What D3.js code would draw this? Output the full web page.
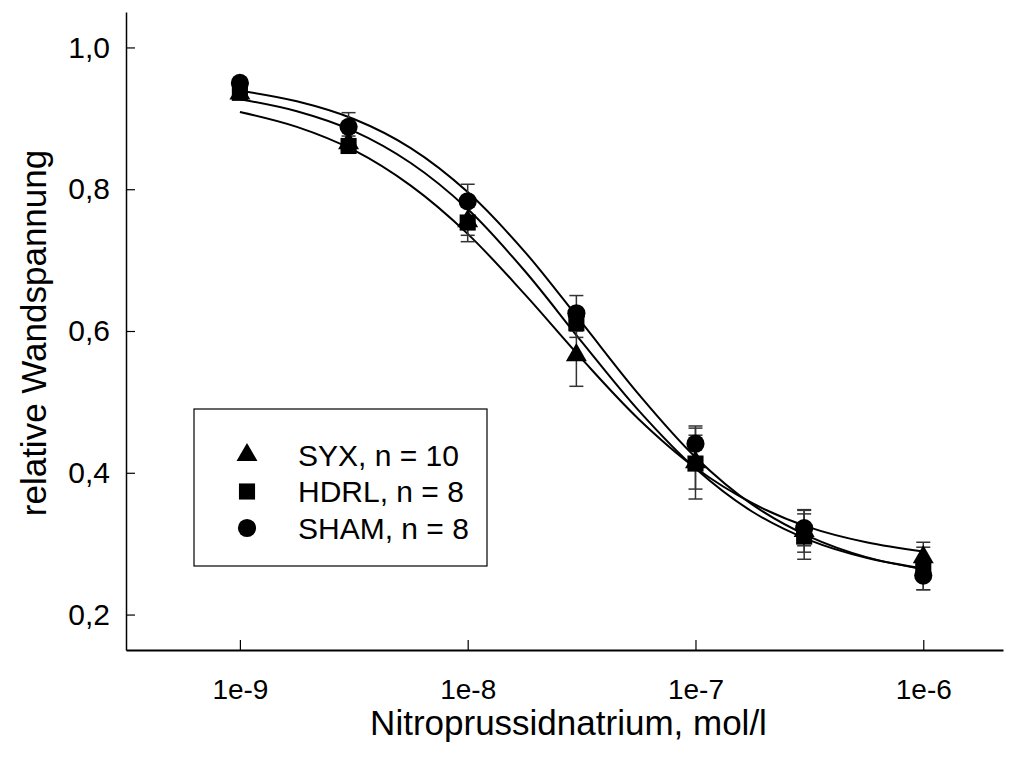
<!DOCTYPE html>
<html>
<head>
<meta charset="utf-8">
<script src="https://cdn.jsdelivr.net/npm/d3@7"></script>
<style>
  body { margin: 0; background: #fff; }
  text { font-family: "Liberation Sans", Arial, sans-serif; fill: #000; }
</style>
</head>
<body>
<svg id="chart" width="1030" height="762"></svg>
<script>
// concentrations (mol/l)
const concentrations = [1e-9, 3e-9, 1e-8, 3e-8, 1e-7, 3e-7, 1e-6];

// mean values per group
const syxValues  = [0.935, 0.865, 0.755, 0.566, 0.415, 0.318, 0.281];
const hdrlValues = [0.936, 0.861, 0.753, 0.611, 0.413, 0.310, 0.265];
const shamValues = [0.950, 0.888, 0.783, 0.625, 0.441, 0.322, 0.255];

// error (± SEM)
const syxErrors  = [0.005, 0.010, 0.020, 0.044, 0.038, 0.030, 0.021];
const hdrlErrors = [0.005, 0.010, 0.027, 0.020, 0.050, 0.032, 0.030];
const shamErrors = [0.005, 0.020, 0.024, 0.025, 0.025, 0.025, 0.020];

// fitted curves, every quarter decade
const curveLogX  = [-9, -8.75, -8.5, -8.25, -8, -7.75, -7.5, -7.25, -7, -6.75, -6.5, -6.25, -6];
const syxCurve   = [0.909, 0.888, 0.855, 0.805, 0.737, 0.652, 0.561, 0.476, 0.407, 0.357, 0.323, 0.302, 0.289];
const hdrlCurve  = [0.927, 0.910, 0.882, 0.837, 0.772, 0.685, 0.585, 0.488, 0.406, 0.345, 0.305, 0.280, 0.265];
const shamCurve  = [0.939, 0.924, 0.899, 0.858, 0.796, 0.712, 0.612, 0.511, 0.422, 0.355, 0.310, 0.281, 0.264];

const yTicks = [0.2, 0.4, 0.6, 0.8, 1.0];
const xTicks = [1e-9, 1e-8, 1e-7, 1e-6];

const groups = [
  { name: 'SYX, n = 10', symbol: d3.symbolTriangle, size: 190, values: syxValues, errors: syxErrors, curve: syxCurve },
  { name: 'HDRL, n = 8', symbol: d3.symbolSquare, size: 260, values: hdrlValues, errors: hdrlErrors, curve: hdrlCurve },
  { name: 'SHAM, n = 8', symbol: d3.symbolCircle, size: 260, values: shamValues, errors: shamErrors, curve: shamCurve }
];

const svg = d3.select('#chart');
const plotLeft = 126, plotRight = 1003, plotTop = 12, plotBottom = 650;

const x = d3.scaleLog().domain([Math.pow(10, -9.5), Math.pow(10, -5.65)]).range([plotLeft, plotRight]);
const y = d3.scaleLinear().domain([0.15, 1.05]).range([plotBottom, plotTop]);

// axes
const xAxis = svg.append('g')
  .attr('transform', `translate(0,${plotBottom})`)
  .call(d3.axisBottom(x).tickValues(xTicks).tickSize(-10).tickSizeOuter(0)
    .tickFormat(d => '1e' + Math.round(Math.log10(d))));
xAxis.select('.domain').attr('stroke', '#000').attr('stroke-width', 2);
xAxis.selectAll('.tick line').attr('stroke', '#000').attr('stroke-width', 1.2);
xAxis.selectAll('.tick text').attr('y', 29).style('font-size', '28px');

const yAxis = svg.append('g')
  .attr('transform', `translate(${plotLeft},0)`)
  .call(d3.axisLeft(y).tickValues(yTicks).tickSize(-9).tickSizeOuter(0)
    .tickFormat(d => d3.format('.1f')(d).replace('.', ',')));
yAxis.select('.domain').attr('stroke', '#000').attr('stroke-width', 1.5);
yAxis.selectAll('.tick text').attr('x', -16).style('font-size', '30px');
yAxis.selectAll('.tick line').attr('stroke', '#000').attr('stroke-width', 1.2);

// axis titles
svg.append('text')
  .attr('x', (plotLeft + plotRight) / 2 + 4)
  .attr('y', 735)
  .attr('text-anchor', 'middle')
  .style('font-size', '35px')
  .text('Nitroprussidnatrium, mol/l');

svg.append('text')
  .attr('transform', 'translate(46,333) rotate(-90)')
  .attr('text-anchor', 'middle')
  .style('font-size', '35px')
  .text('relative Wandspannung');

// fitted curves
const line = d3.line()
  .x((d, i) => x(Math.pow(10, curveLogX[i])))
  .y(d => y(d))
  .curve(d3.curveCatmullRom);

groups.forEach(g => {
  svg.append('path')
    .attr('d', line(g.curve))
    .attr('fill', 'none')
    .attr('stroke', '#000')
    .attr('stroke-width', 2);
});

// error bars
groups.forEach(g => {
  const eb = svg.append('g');
  concentrations.forEach((c, i) => {
    const cx = x(c);
    const hi = y(g.values[i] + g.errors[i]);
    const lo = y(g.values[i] - g.errors[i]);
    eb.append('line').attr('x1', cx).attr('x2', cx).attr('y1', hi).attr('y2', lo)
      .attr('stroke', '#333').attr('stroke-width', 1.5);
    [hi, lo].forEach(yy => {
      eb.append('line').attr('x1', cx - 7).attr('x2', cx + 7).attr('y1', yy).attr('y2', yy)
        .attr('stroke', '#333').attr('stroke-width', 1.5);
    });
  });
});

// markers
groups.forEach(g => {
  svg.append('g').selectAll('path')
    .data(g.values)
    .join('path')
    .attr('transform', (d, i) => `translate(${x(concentrations[i])},${y(d)})`)
    .attr('d', d3.symbol().type(g.symbol).size(g.size))
    .attr('fill', '#000');
});

// legend
const legend = svg.append('g');
legend.append('rect')
  .attr('x', 194).attr('y', 409).attr('width', 293).attr('height', 157)
  .attr('fill', '#fff').attr('stroke', '#000').attr('stroke-width', 1.2);

groups.forEach((g, i) => {
  const ly = 455 + i * 36.5;
  legend.append('path')
    .attr('transform', `translate(247,${ly})`)
    .attr('d', d3.symbol().type(g.symbol).size(g.size))
    .attr('fill', '#000');
  legend.append('text')
    .attr('x', 298)
    .attr('y', ly)
    .attr('dy', '0.36em')
    .style('font-size', '30px')
    .text(g.name);
});
</script>
</body>
</html>
